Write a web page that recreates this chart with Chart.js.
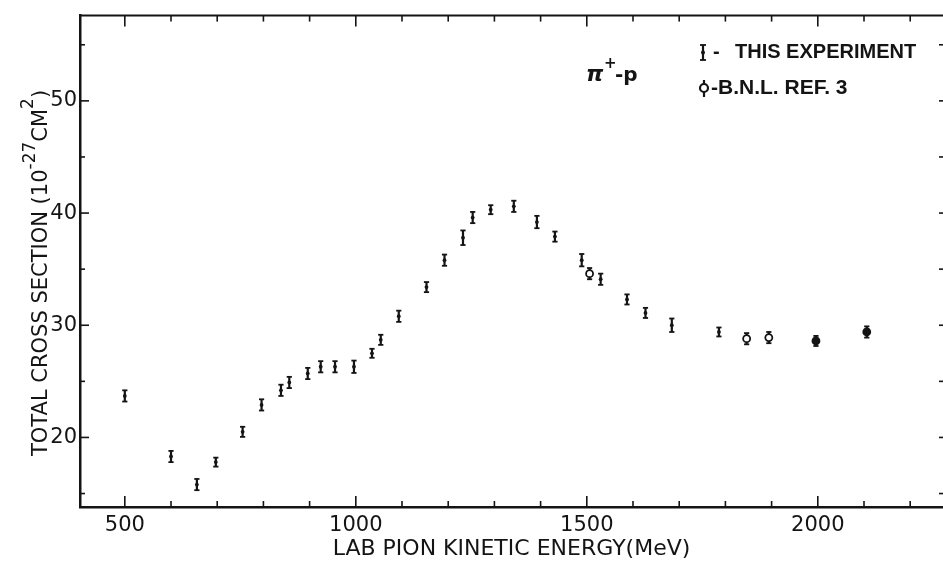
<!DOCTYPE html>
<html><head><meta charset="utf-8">
<script src="https://cdn.jsdelivr.net/npm/chart.js@4.4.0/dist/chart.umd.min.js"></script>
<style>html,body{margin:0;padding:0;background:#fff;}</style>
</head><body>
<canvas id="c" width="943" height="562" style="width:943px;height:562px;display:block"></canvas>
<script>
// ---- data ----
const energyExp = [500,600,656,697,755,796,838,856,896,924,955,996,1035,1054,1093,1153,1192,1232,1253,1292,1342,1392,1431,1489,1530,1587,1627,1684,1786];
const sigmaExp  = [23.7,18.3,15.8,17.8,20.5,22.9,24.2,24.9,25.7,26.3,26.3,26.3,27.5,28.7,30.8,33.4,35.8,37.8,39.6,40.3,40.6,39.2,37.9,35.8,34.1,32.3,31.1,30.0,29.4];
const errExp    = [0.5,0.5,0.5,0.4,0.45,0.5,0.5,0.5,0.5,0.5,0.5,0.55,0.4,0.45,0.5,0.45,0.5,0.65,0.5,0.4,0.5,0.55,0.45,0.55,0.5,0.45,0.45,0.6,0.4];
const energyBNL = [1506,1846,1894,1996,2106];
const sigmaBNL  = [34.6,28.8,28.9,28.6,29.4];
const errBNL    = [0.5,0.5,0.5,0.45,0.5];
const xTickLabels = [500,1000,1500,2000];
const yTickLabels = [20,30,40,50];
const seriesLabels = ['THIS EXPERIMENT','B.N.L. REF. 3'];

const INK = '#141414';
const FONT = '"DejaVu Sans", sans-serif';

function seg(ctx,x1,y1,x2,y2){ctx.beginPath();ctx.moveTo(x1,y1);ctx.lineTo(x2,y2);ctx.stroke();}

const errorBars = {
  id:'errorBars',
  beforeDatasetsDraw(chart){
    const {ctx, scales:{y}} = chart;
    ctx.save();
    ctx.strokeStyle = INK;
    chart.data.datasets.forEach((ds,i)=>{
      const meta = chart.getDatasetMeta(i);
      meta.data.forEach((pt,j)=>{
        const v = ds.data[j].y, e = ds.errors[j];
        const yt = y.getPixelForValue(v+e), yb = y.getPixelForValue(v-e);
        ctx.lineWidth = 2.2;
        seg(ctx, pt.x, yt, pt.x, yb);
        ctx.lineWidth = 1.8;
        seg(ctx, pt.x-2.6, yt, pt.x+2.6, yt);
        seg(ctx, pt.x-2.6, yb, pt.x+2.6, yb);
      });
    });
    ctx.restore();
  }
};

const frame = {
  id:'frame',
  afterDraw(chart){
    const {ctx, chartArea:a, scales:{x,y}} = chart;
    ctx.save();
    ctx.strokeStyle = INK;
    ctx.lineWidth = 2;
    seg(ctx, a.left, a.top, a.right, a.top);
    ctx.lineWidth = 1.6;
    for (let v=500; v<=2200; v+=100){
      const px = x.getPixelForValue(v);
      const L = (v%500===0) ? 11 : 6;
      seg(ctx, px, a.bottom, px, a.bottom-L);
      seg(ctx, px, a.top, px, a.top+L);
    }
    for (let v=15; v<=55; v+=5){
      const py = y.getPixelForValue(v);
      const L = (v%10===0) ? 9 : 5;
      seg(ctx, a.left, py, a.left+L, py);
      seg(ctx, a.right, py, a.right-4, py);
    }
    // y axis title with superscripts
    ctx.fillStyle = INK;
    ctx.translate(47, 456);
    ctx.rotate(-Math.PI/2);
    ctx.textBaseline = 'alphabetic';
    ctx.textAlign = 'left';
    let cx = 0;
    const parts = [
      ['TOTAL CROSS SECTION (10', 21, 0],
      ['-27', 17, -12],
      ['CM', 21, 0],
      ['2', 17, -14],
      [')', 21, 0]
    ];
    parts.forEach(([t,s,dy])=>{
      ctx.font = s+'px '+FONT;
      ctx.fillText(t, cx, dy);
      cx += ctx.measureText(t).width;
    });
    ctx.restore();

    // annotation pi+ - p
    ctx.save();
    ctx.fillStyle = INK;
    ctx.textBaseline = 'alphabetic';
    ctx.font = 'bold italic 22px '+FONT;
    ctx.fillText('\u03C0', 586, 81);
    ctx.font = 'bold 15px '+FONT;
    ctx.fillText('+', 604, 68);
    ctx.font = 'bold 20px '+FONT;
    ctx.fillText('-p', 615, 81);

    // legend
    ctx.strokeStyle = INK;
    ctx.lineWidth = 2.2;
    seg(ctx, 703, 45, 703, 60);
    ctx.lineWidth = 1.8;
    seg(ctx, 700, 45, 706, 45); seg(ctx, 700, 60, 706, 60);
    ctx.beginPath(); ctx.arc(703, 52.5, 2, 0, Math.PI*2); ctx.fill();
    ctx.font = 'bold 20px "Liberation Sans", Arial, sans-serif';
    ctx.textBaseline = 'middle';
    ctx.fillText('-', 713, 52);
    ctx.fillText(seriesLabels[0], 735, 52);
    ctx.lineWidth = 2.2;
    seg(ctx, 704, 80, 704, 97);
    ctx.beginPath(); ctx.arc(704, 88, 4, 0, Math.PI*2); ctx.fillStyle='#fff'; ctx.fill(); ctx.stroke();
    ctx.fillStyle = INK;
    ctx.font = 'bold 21px "Liberation Sans", Arial, sans-serif';
    ctx.fillText('-' + seriesLabels[1], 711, 88);
    ctx.restore();
  }
};

new Chart(document.getElementById('c'), {
  type:'scatter',
  data:{
    datasets:[
      {label:seriesLabels[0], data:energyExp.map((e,i)=>({x:e,y:sigmaExp[i]})), errors:errExp,
       pointStyle:'circle', pointRadius:1.9, backgroundColor:INK, borderColor:INK, borderWidth:0},
      {label:seriesLabels[1], data:energyBNL.map((e,i)=>({x:e,y:sigmaBNL[i]})), errors:errBNL,
       pointStyle:'circle', pointRadius:3.5, backgroundColor:['#fff','#fff','#fff',INK,INK], borderColor:INK, borderWidth:1.8}
    ]
  },
  options:{
    responsive:false, animation:false,
    layout:{autoPadding:false, padding:{top:13,right:0,left:0,bottom:0}},
    plugins:{legend:{display:false}, tooltip:{enabled:false}},
    scales:{
      x:{type:'linear', min:403, max:2271,
         grid:{display:false, drawTicks:false},
         border:{display:true, color:INK, width:2.5},
         afterBuildTicks:s=>{ s.ticks = xTickLabels.map(v=>({value:v})); },
         afterFit:s=>{ s.height = 55; },
         ticks:{color:INK, font:{family:FONT, size:21}, padding:6, maxRotation:0, autoSkip:false, callback:v=>String(v)},
         title:{display:true, text:'LAB PION KINETIC ENERGY(MeV)', color:INK, font:{family:FONT, size:22}, padding:{top:0,bottom:0}}
      },
      y:{type:'linear', min:13.8, max:57.6,
         grid:{display:false, drawTicks:false},
         border:{display:true, color:INK, width:2.5},
         afterBuildTicks:s=>{ s.ticks = yTickLabels.map(v=>({value:v})); },
         afterFit:s=>{ s.width = 80; },
         ticks:{color:INK, font:{family:FONT, size:21}, padding:3, autoSkip:false, callback:v=>String(v)}
      }
    }
  },
  plugins:[errorBars, frame]
});
</script>
</body></html>
